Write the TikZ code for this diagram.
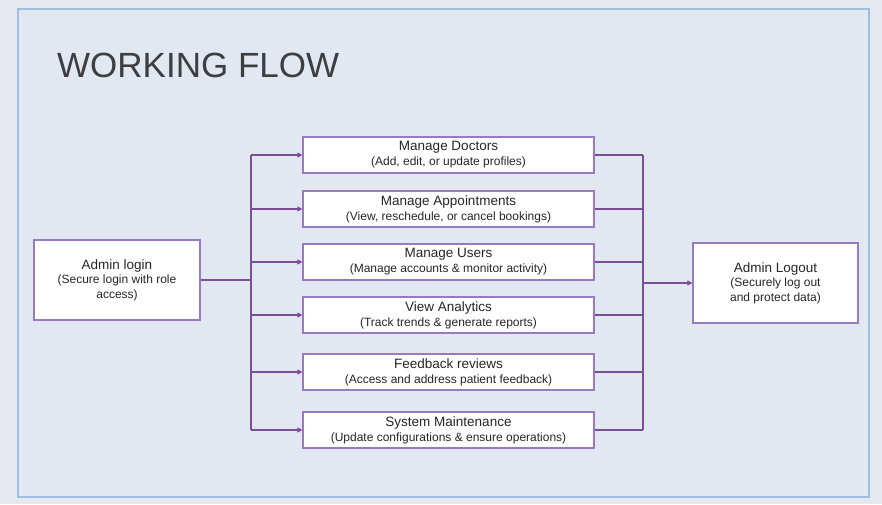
\documentclass[tikz,border=0pt]{standalone}
\usepackage{fontspec}
\setmainfont{Liberation Sans}
\usetikzlibrary{arrows.meta}

\definecolor{pagebg}{RGB}{229,233,239}
\definecolor{framebg}{RGB}{226,232,241}
\definecolor{frameline}{RGB}{160,190,226}
\definecolor{titlegray}{RGB}{60,62,66}
\definecolor{flowline}{RGB}{125,78,152}
\definecolor{boxline}{RGB}{152,122,192}

\tikzset{
  task/.style={draw=boxline, fill=white, line width=1.2pt, inner sep=0pt,
    minimum width=291pt, minimum height=36pt, align=center, text=black!85,
    font=\fontsize{12}{15}\selectfont},
  endbox/.style={draw=boxline, fill=white, line width=1.2pt, inner sep=0pt,
    minimum width=166pt, minimum height=80pt, align=center, text=black!85,
    font=\fontsize{12}{14.5}\selectfont},
  flow/.style={draw=flowline, line width=1.1pt},
  flowarrow/.style={flow, -{Triangle[length=5pt,width=5pt]}}
}
\newcommand{\tasktitle}{\fontsize{13.5}{15}\selectfont}
\newcommand{\tasksub}{\fontsize{12}{14.5}\selectfont}

\begin{document}
\begin{tikzpicture}[x=1pt, y=-1pt]
			%%%%% START %%%%%
			
			\useasboundingbox[fill=pagebg] (0, 0) rectangle (882, 504);
			\draw[fill=framebg, draw=frameline, line width=1.6pt] (18, 9) rectangle (869, 497);
			
			\node[anchor=base west, text=titlegray, font=\fontsize{35}{40}\selectfont, inner sep=0pt] (title) at (57, 77) {WORKING FLOW};
			
			\node[endbox] (login) at (117, 280) {\tasktitle Admin login\\ \tasksub (Secure login with role\\ \tasksub access)};
			\node[endbox, minimum width=165pt] (logout) at (775.5, 283) {\tasktitle Admin Logout\\ \tasksub (Securely log out\\ \tasksub and protect data)};
			
			\node[task] (doctors) at (448.5, 155) {\tasktitle Manage Doctors\\ \tasksub (Add, edit, or update profiles)};
			\node[task] (appoint) at (448.5, 209) {\tasktitle Manage Appointments\\ \tasksub (View, reschedule, or cancel bookings)};
			\node[task] (users) at (448.5, 262) {\tasktitle Manage Users\\ \tasksub (Manage accounts \& monitor activity)};
			\node[task] (analytics) at (448.5, 315) {\tasktitle View Analytics\\ \tasksub (Track trends \& generate reports)};
			\node[task] (feedback) at (448.5, 372) {\tasktitle Feedback reviews\\ \tasksub (Access and address patient feedback)};
			\node[task] (maint) at (448.5, 430) {\tasktitle System Maintenance\\ \tasksub (Update configurations \& ensure operations)};
			
			% left bus
			\coordinate (lbtop) at (251, 155);
			\coordinate (lbbot) at (251, 430);
			\draw[flow] (login.east) -- (login.east -| lbtop);
			\draw[flow] (lbtop) -- (lbbot);
			\draw[flowarrow] (lbtop) -- (doctors.west);
			\draw[flowarrow] (appoint.west -| lbtop) -- (appoint.west);
			\draw[flowarrow] (users.west -| lbtop) -- (users.west);
			\draw[flowarrow] (analytics.west -| lbtop) -- (analytics.west);
			\draw[flowarrow] (feedback.west -| lbtop) -- (feedback.west);
			\draw[flowarrow] (lbbot) -- (maint.west);
			
			% right bus
			\coordinate (rbtop) at (643, 155);
			\coordinate (rbbot) at (643, 430);
			\draw[flow] (doctors.east) -- (rbtop);
			\draw[flow] (appoint.east) -- (appoint.east -| rbtop);
			\draw[flow] (users.east) -- (users.east -| rbtop);
			\draw[flow] (analytics.east) -- (analytics.east -| rbtop);
			\draw[flow] (feedback.east) -- (feedback.east -| rbtop);
			\draw[flow] (maint.east) -- (rbbot);
			\draw[flow] (rbtop) -- (rbbot);
			\draw[flowarrow] (logout.west -| rbtop) -- (logout.west);
			
			%%%%% END %%%%%
\end{tikzpicture}
\end{document}
